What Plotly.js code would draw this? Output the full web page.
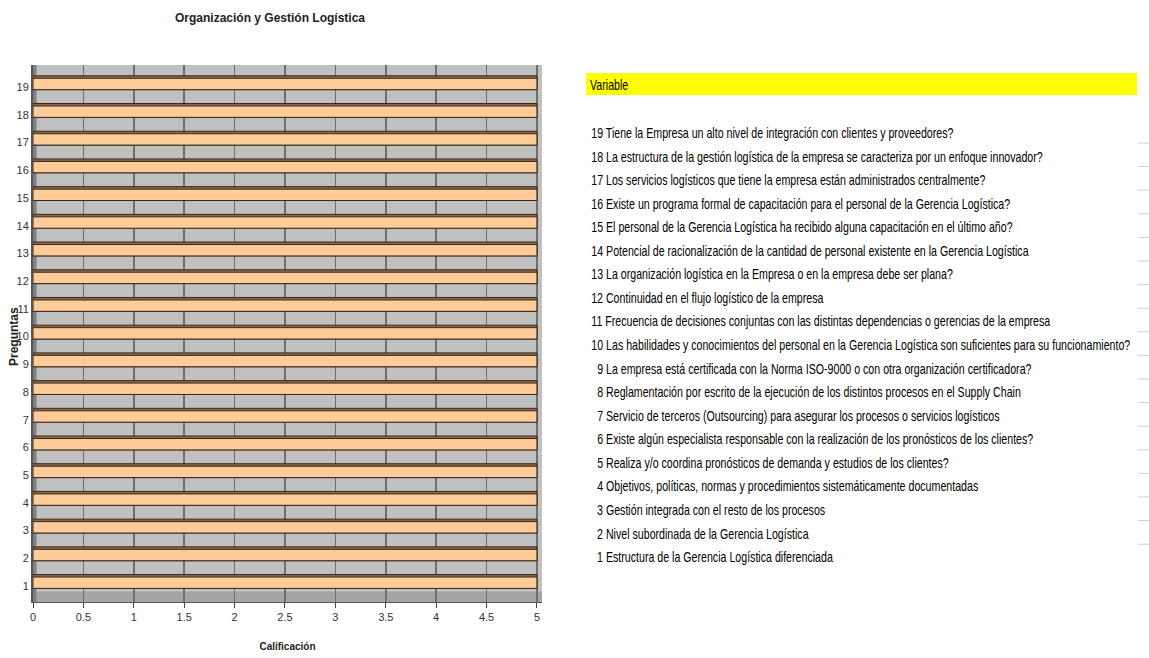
<!DOCTYPE html>
<html>
<head>
<meta charset="utf-8">
<script src="https://cdn.plot.ly/plotly-3.0.1.min.js"></script>
<style>
html,body{margin:0;padding:0;background:#fff;}
#chart{width:1149px;height:658px;}
#chart .annotation-text{transform-box:fill-box;transform-origin:left center;transform:scaleX(0.76);}
#chart g.annotation[data-index="0"] .annotation-text{transform:none;}
</style>
</head>
<body>
<div id="chart"></div>
<script>
// ---- data ----
const preguntas = [1,2,3,4,5,6,7,8,9,10,11,12,13,14,15,16,17,18,19];
const calificacion = [5,5,5,5,5,5,5,5,5,5,5,5,5,5,5,5,5,5,5];
const variables = [
  "Estructura de la Gerencia Logística diferenciada",
  "Nivel subordinada de la Gerencia Logística",
  "Gestión integrada con el resto de los procesos",
  "Objetivos, políticas, normas y procedimientos sistemáticamente documentadas",
  "Realiza y/o coordina pronósticos de demanda y estudios de los clientes?",
  "Existe algún especialista responsable con la realización de los pronósticos de los clientes?",
  "Servicio de terceros (Outsourcing) para asegurar los procesos o servicios logísticos",
  "Reglamentación por escrito de la ejecución de los distintos procesos en el Supply Chain",
  "La empresa está certificada con la Norma ISO-9000 o con otra organización certificadora?",
  "Las habilidades y conocimientos del personal en la Gerencia Logística son suficientes para su funcionamiento?",
  "Frecuencia de decisiones conjuntas con las distintas dependencias o gerencias de la empresa",
  "Continuidad en el flujo logístico de la empresa",
  "La organización logística en la Empresa o en la empresa debe ser plana?",
  "Potencial de racionalización de la cantidad de personal existente en la Gerencia Logística",
  "El personal de la Gerencia Logística ha recibido alguna capacitación en el último año?",
  "Existe un programa formal de capacitación para el personal de la Gerencia Logística?",
  "Los servicios logísticos que tiene la empresa están administrados centralmente?",
  "La estructura de la gestión logística de la empresa se caracteriza por un enfoque innovador?",
  "Tiene la Empresa un alto nivel de integración con clientes y proveedores?"
];
const xTicks = [0,0.5,1,1.5,2,2.5,3,3.5,4,4.5,5];
const xTickText = ["0","0.5","1","1.5","2","2.5","3","3.5","4","4.5","5"];

const FONT = "Liberation Sans, Arial, sans-serif";
const W = 1149, H = 658;
const M = {l:33, r:607, t:65, b:56};
const PW = W - M.l - M.r, PH = H - M.t - M.b;
function px(x){return (x - M.l)/PW;}
function py(y){return (H - M.b - y)/PH;}

const traces = [
  { // dark top face (3D)
    type:'bar', orientation:'h', x:calificacion, y:preguntas,
    width:0.50, offset:-0.09,
    marker:{color:'#8a6a4c', line:{color:'#3a2a1a', width:1}},
    hoverinfo:'skip', showlegend:false
  },
  { // front face
    type:'bar', orientation:'h', x:calificacion, y:preguntas,
    width:0.41, offset:-0.09,
    marker:{color:'#ffcc99', line:{color:'#3a2a1a', width:1}},
    showlegend:false
  }
];

const ann = [];
// y title (index 0, not condensed)
ann.push({xref:'paper', yref:'paper', x:px(14), y:py(337), xanchor:'center', yanchor:'middle',
  text:'<b>Preguntas</b>', textangle:-90, showarrow:false, font:{family:FONT, size:12, color:'#222'}});
// list annotations (right panel)
const top0 = 133, step = 23.56;
ann.push({xref:'paper', yref:'paper', x:px(588), y:py(85), xanchor:'left', yanchor:'middle',
  text:'Variable', showarrow:false, font:{family:FONT, size:14, color:'#000'}});
for (let n = 19; n >= 1; n--) {
  const yy = top0 + (19-n)*step;
  const num = (n < 10 ? '&nbsp;&nbsp;' : '') + String(preguntas[n-1]);
  ann.push({xref:'paper', yref:'paper', x:px(589), y:py(yy), xanchor:'left', yanchor:'middle',
    text:num + ' ' + variables[n-1], showarrow:false, font:{family:FONT, size:14, color:'#000'}});
}

const shapes = [
  // yellow header band
  {type:'rect', xref:'paper', yref:'paper', x0:px(586), x1:px(1137), y0:py(73), y1:py(95),
   fillcolor:'#ffff00', line:{width:0}, layer:'below'},
  // floor strip
  {type:'rect', xref:'paper', yref:'y', x0:0, x1:1, y0:0.42, y1:0.8,
   fillcolor:'#a4a4a4', line:{width:0}, layer:'below'},
  // left side wall
  {type:'rect', xref:'x', yref:'paper', x0:0, x1:0.035, y0:0, y1:1,
   fillcolor:'#808080', line:{width:0}, layer:'below'}
];
for (let k = 0; k < 18; k++) {
  const yy = 143 + k*23.6;
  shapes.push({type:'line', xref:'paper', yref:'paper', x0:px(1138), x1:px(1149), y0:py(yy), y1:py(yy),
    line:{color:'#cfcfcf', width:1}});
}

const layout = {
  width:W, height:H,
  margin:{l:M.l, r:M.r, t:M.t, b:M.b, pad:0},
  paper_bgcolor:'#ffffff', plot_bgcolor:'#c0c0c0',
  barmode:'overlay',
  title:{text:'<b>Organización y Gestión Logística</b>', x:270/W, xanchor:'center', y:1-18/H, yanchor:'middle',
    font:{family:FONT, size:12, color:'#222'}},
  xaxis:{range:[0,5.05], tickvals:xTicks, ticktext:xTickText, showgrid:true, gridcolor:'#6e6e6e', gridwidth:1.5,
    zeroline:false, showline:true, linecolor:'#555', ticks:'outside', ticklen:5, tickcolor:'#444',
    tickfont:{family:FONT, size:11, color:'#333'},
    title:{text:'<b>Calificación</b>', font:{family:FONT, size:10, color:'#222'}, standoff:20}},
  yaxis:{range:[0.42,19.8], tickvals:preguntas, ticktext:preguntas.map(String), showgrid:false, zeroline:false,
    showline:true, linecolor:'#555', linewidth:2, ticks:'', tickfont:{family:FONT, size:11, color:'#333'}},
  annotations:ann, shapes:shapes
};
Plotly.newPlot('chart', traces, layout, {displayModeBar:false, staticPlot:true});
</script>
</body>
</html>
